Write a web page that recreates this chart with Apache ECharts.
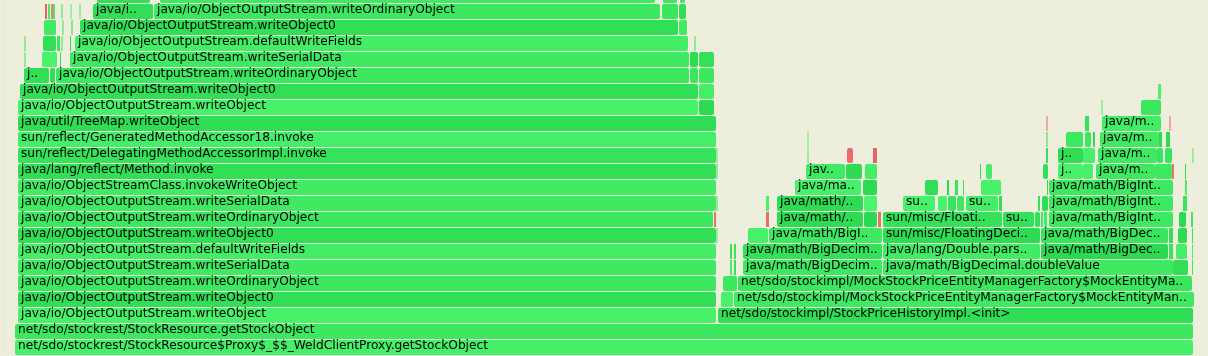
<!DOCTYPE html>
<html>
<head>
<meta charset="utf-8">
<script src="https://cdn.jsdelivr.net/npm/echarts@6/dist/echarts.min.js"></script>
<style>
html,body{margin:0;padding:0;background:#eeeedc;}
#chart{width:1208px;height:356px;}
</style>
</head>
<body>
<div id="chart"></div>
<script>
const OOS = 'java/io/ObjectOutputStream.';
// Flame graph frames: stack depth, start sample, end sample, function name, frame kind
const frameDepth = [
  0, 1,
  2, 2,
  3, 3, 3,
  4, 4, 4,
  5, 5, 5, 5, 5, 5, 5,
  6, 6, 6, 6, 6, 6, 6, 6, 6,
  7, 7, 7, 7, 7, 7, 7, 7, 7,
  8, 8, 8, 8, 8, 8, 8, 8, 8, 8, 8, 8, 8, 8,
  9, 9, 9, 9, 9, 9, 9, 9, 9, 9, 9, 9, 9, 9, 9,
  10, 10, 10, 10, 10, 10, 10, 10, 10, 10, 10,
  11, 11, 11, 11, 11, 11, 11, 11, 11, 11, 11, 11, 11, 11,
  12, 12, 12, 12, 12, 12, 12, 12, 12, 12, 12, 12,
  13, 13, 13, 13, 13, 13, 13, 13, 13,
  14, 14, 14, 14, 14,
  15, 15, 15, 15,
  16, 16, 16,
  17, 17, 17, 17, 17,
  18, 18, 18, 18, 18, 18,
  19, 19, 19, 19, 19, 19, 19,
  20, 20, 20, 20, 20,
  21, 21, 21, 21, 21, 21, 21, 21, 21, 21, 21,
  22, 22, 22, 22
];
const frameStart = [
  15, 15,
  18, 718,
  18, 721, 734,
  18, 723, 738,
  18, 730, 734, 743, 883, 1173, 1192,
  18, 730, 734, 743, 883, 1041, 1169, 1176, 1192,
  18, 748, 769, 883, 1041, 1169, 1178, 1192, 716.5,
  18, 714, 766, 777, 864, 878, 883, 1003, 1035, 1041, 1044, 1049, 1179, 1191,
  18, 766, 777, 864, 903, 938, 948, 957, 966, 999, 1038, 1042, 1049, 1183, 716.5,
  18, 795, 863, 925, 947, 955, 963, 981, 1047, 1049, 1185,
  18, 716.5, 806, 846, 865, 980, 986, 1043, 1058, 1083, 1096, 1155, 1172, 1185,
  18, 716.5, 807.5, 847, 873, 1046, 1058, 1083, 1098, 1157, 1165, 1192.5,
  18, 807.5, 1046.5, 1066, 1085, 1093, 1100, 1159, 1166,
  18, 1046.5, 1085, 1102, 1169.5,
  18, 699, 1101.5, 1141,
  20, 699, 1158,
  24, 50, 56, 690, 699,
  24.5, 42, 60, 70, 690, 699,
  24.5, 43, 57, 61.5, 70, 75, 694.5,
  44, 62.5, 71.5, 80, 679,
  45, 48, 51, 53, 61.5, 70.5, 79.5, 93, 154, 662, 679,
  97, 160, 663, 680
];
const frameEnd = [
  1193, 1193,
  716, 1193,
  716, 733, 1194,
  716, 737, 1192,
  716, 732, 736, 882, 1173, 1188, 1193,
  716, 732, 736, 882, 1040, 1168, 1173, 1187, 1193,
  716, 768, 882, 1040, 1168, 1173, 1187, 1193, 717.5,
  713, 716, 769, 863, 877, 881, 1002, 1034, 1040, 1043, 1047, 1173, 1186, 1193,
  716, 769, 863, 877, 935, 947, 956, 964, 998, 1002, 1040, 1048, 1173, 1187, 717.5,
  716, 861, 877, 938, 949, 958, 964, 1001, 1048, 1173, 1187,
  716, 717.5, 845, 862, 877, 981, 992, 1048, 1083, 1093, 1155, 1172, 1174, 1186,
  716, 717.5, 808.5, 853, 877, 1048, 1083, 1095, 1157, 1163, 1172, 1193.5,
  716, 808.5, 1047.5, 1083, 1091, 1095, 1159, 1162, 1170,
  716, 1047.5, 1089, 1161, 1170.5,
  698, 714, 1102.5, 1161,
  698, 714, 1161,
  49, 55, 689, 698, 714,
  25.5, 57, 61, 689, 698, 714,
  25.5, 56, 60, 62.5, 71, 688, 695.5,
  56, 63.5, 72.5, 678, 687,
  47, 50, 53, 55, 62.5, 71.5, 80.5, 153, 660, 678, 686,
  150, 655, 677, 685
];
const frameName = [
  'net/sdo/stockrest/StockResource$Proxy$_$$_WeldClientProxy.getStockObject',
  'net/sdo/stockrest/StockResource.getStockObject',
  OOS + 'writeObject', 'net/sdo/stockimpl/StockPriceHistoryImpl.<init>',
  OOS + 'writeObject0', 'net/sdo/stockimpl/StockPriceImpl.<init>', 'net/sdo/stockimpl/MockStockPriceEntityManagerFactory$MockEntityManager.find',
  OOS + 'writeOrdinaryObject', 'java/util/Random.nextDouble', 'net/sdo/stockimpl/MockStockPriceEntityManagerFactory$MockEntityManager.createStockPrice',
  OOS + 'writeSerialData', 'java/math/BigDecimal.setScale', 'java/math/BigDecimal.add', 'java/math/BigDecimal.<init>', 'java/math/BigDecimal.doubleValue', 'java/math/BigDecimal.valueOf', 'java/lang/Math.random',
  OOS + 'defaultWriteFields', 'java/math/BigDecimal.checkScale', 'java/math/BigDecimal.divide', 'java/math/BigDecimal.bigMultiplyPowerTen', 'java/lang/Double.parseDouble', 'java/math/BigDecimal.toString', 'java/math/BigDecimal.layoutChars', 'java/math/BigDecimal.inflated', 'java/util/Random.next',
  OOS + 'writeObject0', 'java/math/BigInteger.valueOf', 'java/math/BigInteger.multiply', 'sun/misc/FloatingDecimal.parseDouble', 'java/math/BigDecimal.layoutChars', 'java/lang/StringBuilder.append', 'java/math/BigInteger.<init>', 'java/util/concurrent/atomic/AtomicLong.compareAndSet', 'java/io/ObjectOutputStream$BlockDataOutputStream.write',
  OOS + 'writeOrdinaryObject', 'itable stub', 'vtable stub', 'java/math/BigInteger.multiplyToLen', 'java/math/BigInteger.trustedStripLeadingZeroInts', 'SharedRuntime::new_array', 'sun/misc/FloatingDecimal.readJavaFormatString', 'sun/misc/FloatingDecimal$ASCIIToBinaryBuffer.doubleValue', 'sun/misc/FDBigInteger.cmp', 'java/lang/String.<init>', 'java/lang/StringBuilder.<init>', 'java/math/BigInteger.toString', 'java/math/BigInteger.mag', 'java/lang/Long.valueOf',
  OOS + 'writeSerialData', 'java/math/BigInteger.implMulAdd', 'java/math/BigInteger.multiplyToLen', 'java/math/BigInteger.stripLeadingZeroInts', 'sun/misc/FDBigInteger.valueOfMulPow52', 'sun/misc/FDBigInteger.leftShift', 'sun/misc/FDBigInteger.mult', 'sun/misc/FDBigInteger.trimLeadingZeros', 'sun/misc/FDBigInteger.<init>', 'sun/misc/FDBigInteger.quoRemIteration', 'java/util/Arrays.copyOfRange', 'java/lang/AbstractStringBuilder.append', 'java/math/BigInteger.toString', 'java/math/BigInteger.smallToString', 'java/io/ObjectOutputStream$BlockDataOutputStream.drain',
  'java/io/ObjectStreamClass.invokeWriteObject', 'java/math/MutableBigInteger.divide', 'java/math/BigInteger.<init>', 'sun/misc/FDBigInteger.valueOfPow52', 'sun/misc/FDBigInteger.big5pow', 'sun/misc/FDBigInteger.mult', 'sun/misc/FDBigInteger.add', 'sun/misc/FDBigInteger.multDiffMe', 'java/lang/System.arraycopy', 'java/math/BigInteger.toString', 'java/math/BigInteger.getLower',
  'java/lang/reflect/Method.invoke', 'java/io/ObjectOutputStream.writeHandle', 'java/math/MutableBigInteger.divideKnuth', 'java/math/MutableBigInteger.toBigInteger', 'java/math/MutableBigInteger.normalize', 'sun/misc/FDBigInteger.multAndCarryBy10', 'sun/misc/FDBigInteger.leftInplaceSub', 'java/lang/StringBuilder.append', 'java/math/BigInteger.getRadixConversionCache', 'java/math/BigInteger.getLower', 'java/math/BigInteger.divideAndRemainder', 'java/math/BigInteger.toString', 'Interpreter', 'java/lang/Long.toString',
  'sun/reflect/DelegatingMethodAccessorImpl.invoke', 'java/io/ObjectOutputStream$HandleTable.lookup', 'java/math/MutableBigInteger.<init>', 'OptoRuntime::new_array_C', 'OptoRuntime::new_array_nozero_C', 'java/util/Arrays.copyOf', 'java/math/BigInteger.pow', 'java/math/BigInteger.valueOf', 'java/math/BigInteger.divideAndRemainderKnuth', 'java/math/BigInteger.getUpper', 'java/math/BigInteger.smallToString', 'java/lang/Math.max',
  'sun/reflect/GeneratedMethodAccessor18.invoke', 'java/math/MutableBigInteger.clear', 'java/lang/System.arraycopy', 'java/math/BigInteger.square', 'java/math/BigInteger.shiftLeft', 'java/math/BigInteger.bitLength', 'java/math/MutableBigInteger.divideKnuth', 'java/math/MutableBigInteger.toBigInteger', 'java/math/BigInteger.<init>',
  'java/util/TreeMap.writeObject', 'CollectedHeap::allocate', 'java/math/BigInteger.squareToLen', 'java/math/MutableBigInteger.divideMagnitude', 'Runtime1::new_type_array',
  OOS + 'writeObject', 'java/util/TreeMap$EntryIterator.next', 'java/math/MutableBigInteger.normalize', 'java/math/MutableBigInteger.divideOneWord',
  OOS + 'writeObject0', 'java/util/TreeMap.successor', 'java/math/MutableBigInteger.mulsub',
  OOS + 'writeObject0', 'java/io/ObjectOutputStream.writeClassDesc', OOS + 'writeOrdinaryObject', 'java/io/ObjectStreamClass.lookup', 'java/io/ObjectOutputStream$HandleTable.assign',
  'java/io/ObjectOutputStream.writeHandle', 'java/io/ObjectOutputStream.writeString', 'java/io/ObjectStreamClass.getClassDataLayout', OOS + 'writeSerialData', 'java/io/ObjectStreamClass.checkSerialize', 'java/io/ObjectOutputStream$HandleTable.hash',
  'java/io/ObjectOutputStream$BlockDataOutputStream.writeUTF', 'java/io/ObjectOutputStream.writeClassDesc', 'java/io/ObjectStreamClass.getPrimFieldValues', 'java/io/ObjectStreamClass.hasWriteObjectData', 'java/io/ObjectOutputStream$BlockDataOutputStream.setBlockDataMode', OOS + 'defaultWriteFields', 'java/io/ObjectStreamClass.getDataLayout',
  'java/io/ObjectOutputStream$HandleTable.lookup', 'java/io/ObjectOutputStream.writeNonProxyDesc', 'sun/misc/Unsafe.getLong', OOS + 'writeObject0', 'java/io/ObjectStreamClass.getObjFieldValues',
  'SharedRuntime::complete_monitor_locking', 'java/io/ObjectOutputStream$BlockDataOutputStream.getUTFLength', 'ObjectSynchronizer::fast_enter', 'java/lang/String.charAt', 'java/io/ObjectStreamClass.getSerializableConstructor', 'java/io/ObjectStreamClass.requireInitialized', 'java/lang/Class.isArray', 'java/io/ObjectOutputStream.writeObject0', OOS + 'writeOrdinaryObject', 'java/io/ObjectOutputStream$ReplaceTable.lookup', 'java/io/ObjectOutputStream$HandleTable.insert',
  'java/io/ObjectOutputStream.writeClassDesc', OOS + 'writeSerialData', 'java/io/ObjectStreamClass.lookup', 'java/io/ObjectOutputStream$HandleTable.assign'
];
// 'j' = Java frame (green), 'n' = native / VM frame (red)
const frameKind = frameName.map(n => /::|stub|^Interpreter$/.test(n) ? 'n' : 'j');

// Rendering constants (flame graph conventions)
const CHAR_SLOT = 6.75;     // px per character used for label truncation
const FONT = '12.2px "DejaVu Sans", Verdana, sans-serif';

function hashUnit(str) {
  let h = 2166136261;
  for (let i = 0; i < str.length; i++) {
    h ^= str.charCodeAt(i);
    h = Math.imul(h, 16777619) >>> 0;
  }
  return (h % 1000) / 1000;
}
function frameColor(name, kind) {
  const v = hashUnit(name);
  if (kind === 'n') {
    return 'rgb(' + Math.round(225 + 20 * v) + ',' + Math.round(100 + 25 * v) + ',' + Math.round(100 + 25 * v) + ')';
  }
  return 'rgb(' + Math.round(42 + 34 * v) + ',' + Math.round(218 + 26 * v) + ',' + Math.round(80 + 30 * v) + ')';
}
function fitLabel(name, width) {
  const chars = Math.floor(width / CHAR_SLOT);
  if (chars < 3) return '';
  if (chars >= name.length) return name;
  return name.slice(0, chars - 2) + '..';
}

const seriesData = frameDepth.map((d, i) => [d, frameStart[i], frameEnd[i], i]);

function renderItem(params, api) {
  const depth = api.value(0);
  const s = api.value(1);
  const e = api.value(2);
  const idx = api.value(3);
  const p0 = api.coord([s, depth + 1]);
  const p1 = api.coord([e, depth]);
  const x = p0[0];
  const y = p0[1] + 1;
  const w = Math.max(p1[0] - p0[0], 1);
  const h = p1[1] - p0[1] - 1;
  const name = frameName[idx];
  const label = fitLabel(name, w);
  const children = [{
    type: 'rect',
    shape: { x: x, y: y, width: w, height: h, r: w > 4 ? 2 : 0 },
    style: { fill: frameColor(name, frameKind[idx]) }
  }];
  if (label) {
    children.push({
      type: 'text',
      style: {
        text: label,
        x: x + 3,
        y: y + 12,
        font: FONT,
        fill: '#000000',
        verticalAlign: 'bottom'
      }
    });
  }
  return { type: 'group', children: children };
}

const chart = echarts.init(document.getElementById('chart'), null, { renderer: 'canvas' });
chart.setOption({
  backgroundColor: '#eeeedc',
  animation: false,
  grid: { left: 0, right: 0, top: 0, bottom: 1 },
  xAxis: { type: 'value', min: 0, max: 1208, show: false },
  yAxis: { type: 'value', min: 0, max: 355 / 16, show: false },
  graphic: [{
    type: 'line',
    shape: { x1: 3.5, y1: 0, x2: 3.5, y2: 356 },
    style: { stroke: '#d6d6c4', lineWidth: 1, lineDash: [1, 2] }
  }],
  series: [{
    type: 'custom',
    renderItem: renderItem,
    clip: true,
    encode: { x: [1, 2], y: 0 },
    data: seriesData
  }]
});
</script>
</body>
</html>
